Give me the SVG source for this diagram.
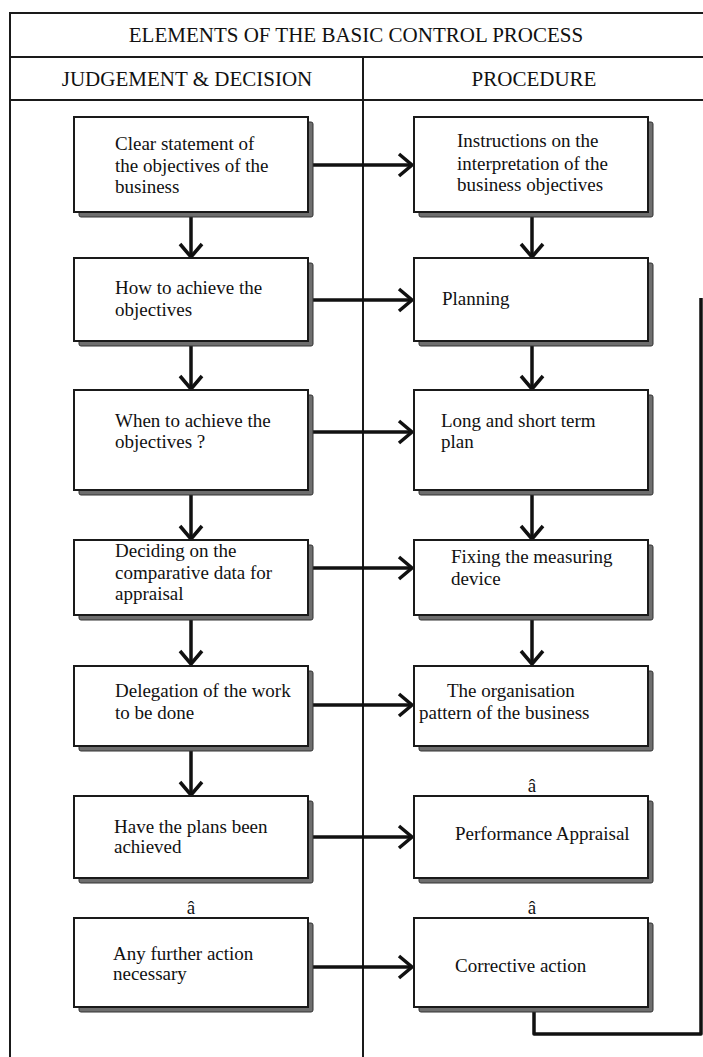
<svg xmlns="http://www.w3.org/2000/svg" width="703" height="1057" viewBox="0 0 703 1057">
<style>
.frame{fill:none;stroke:#1a1a1a;stroke-width:2}
.hd{font-family:"Liberation Serif",serif;font-size:21px;fill:#111;text-anchor:middle}
.t{font-family:"Liberation Serif",serif;font-size:19px;fill:#111}
.c{text-anchor:middle}
.box{fill:#fff;stroke:#1a1a1a;stroke-width:2}
.sh{fill:#6e6e6e;stroke:#333;stroke-width:1}
.ln{fill:none;stroke:#111;stroke-width:3.5}
</style>
<defs>
<marker id="arr" markerUnits="userSpaceOnUse" markerWidth="20" markerHeight="26" viewBox="0 0 20 26" refX="16" refY="13" orient="auto">
<path d="M3,2 L16,13 L3,24" fill="none" stroke="#111" stroke-width="3.5"/>
</marker>
<g id="shape">
<rect class="sh" x="5" y="5" width="234" height="10" rx="2"/>
</g>
</defs>
<rect width="703" height="1057" fill="#fff"/>
<g id="frame">
<path class="frame" d="M10,1060 V13 H705 M10,57 H705 M10,100 H705 M363,57 V1060"/>
<text class="hd" x="356" y="42">ELEMENTS OF THE BASIC CONTROL PROCESS</text>
<text class="hd" x="187" y="86">JUDGEMENT &amp; DECISION</text>
<text class="hd" x="534" y="86">PROCEDURE</text>
</g>
<g id="connectors">
<path class="ln" d="M313,165 H412" marker-end="url(#arr)"/>
<path class="ln" d="M313,300 H412" marker-end="url(#arr)"/>
<path class="ln" d="M313,432 H412" marker-end="url(#arr)"/>
<path class="ln" d="M313,568 H412" marker-end="url(#arr)"/>
<path class="ln" d="M313,705 H412" marker-end="url(#arr)"/>
<path class="ln" d="M313,837 H412" marker-end="url(#arr)"/>
<path class="ln" d="M313,967 H412" marker-end="url(#arr)"/>
<path class="ln" d="M191,213 V257" marker-end="url(#arr)"/>
<path class="ln" d="M191,346 V389" marker-end="url(#arr)"/>
<path class="ln" d="M191,494 V539" marker-end="url(#arr)"/>
<path class="ln" d="M191,616 V664" marker-end="url(#arr)"/>
<path class="ln" d="M191,751 V795" marker-end="url(#arr)"/>
<path class="ln" d="M532,213 V257" marker-end="url(#arr)"/>
<path class="ln" d="M532,346 V389" marker-end="url(#arr)"/>
<path class="ln" d="M532,494 V539" marker-end="url(#arr)"/>
<path class="ln" d="M532,616 V664" marker-end="url(#arr)"/>
<path class="ln" d="M534,1009 V1034 H701 V298" stroke-linejoin="round"/>
</g>
<g id="n1">
<rect class="sh" x="79" y="122" width="234" height="95" rx="2"/>
<rect class="box" x="74" y="117" width="234" height="95"/>
<text class="t" x="115" y="150">Clear statement of</text>
<text class="t" x="115" y="172">the objectives of the</text>
<text class="t" x="115" y="193">business</text>
</g>
<g id="n2">
<rect class="sh" x="79" y="263" width="234" height="83" rx="2"/>
<rect class="box" x="74" y="258" width="234" height="83"/>
<text class="t" x="115" y="294">How to achieve the</text>
<text class="t" x="115" y="316">objectives</text>
</g>
<g id="n3">
<rect class="sh" x="79" y="395" width="234" height="100" rx="2"/>
<rect class="box" x="74" y="390" width="234" height="100"/>
<text class="t" x="115" y="427">When to achieve the</text>
<text class="t" x="115" y="448">objectives ?</text>
</g>
<g id="n4">
<rect class="sh" x="79" y="545" width="234" height="75" rx="2"/>
<rect class="box" x="74" y="540" width="234" height="75"/>
<text class="t" x="115" y="557">Deciding on the</text>
<text class="t" x="115" y="579">comparative data for</text>
<text class="t" x="115" y="600">appraisal</text>
</g>
<g id="n5">
<rect class="sh" x="79" y="671" width="234" height="80" rx="2"/>
<rect class="box" x="74" y="666" width="234" height="80"/>
<text class="t" x="115" y="697">Delegation of the work</text>
<text class="t" x="115" y="719">to be done</text>
</g>
<g id="n6">
<rect class="sh" x="79" y="801" width="234" height="82" rx="2"/>
<rect class="box" x="74" y="796" width="234" height="82"/>
<text class="t" x="114" y="833">Have the plans been</text>
<text class="t" x="114" y="853">achieved</text>
</g>
<g id="n7">
<text class="t c" x="191" y="914">â</text>
<rect class="sh" x="79" y="923" width="234" height="89" rx="2"/>
<rect class="box" x="74" y="918" width="234" height="89"/>
<text class="t" x="113" y="960">Any further action</text>
<text class="t" x="113" y="980">necessary</text>
</g>
<g id="m1">
<rect class="sh" x="419" y="122" width="234" height="95" rx="2"/>
<rect class="box" x="414" y="117" width="234" height="95"/>
<text class="t" x="457" y="147">Instructions on the</text>
<text class="t" x="457" y="170">interpretation of the</text>
<text class="t" x="457" y="191">business objectives</text>
</g>
<g id="m2">
<rect class="sh" x="419" y="263" width="234" height="83" rx="2"/>
<rect class="box" x="414" y="258" width="234" height="83"/>
<text class="t" x="442" y="305">Planning</text>
</g>
<g id="m3">
<rect class="sh" x="419" y="395" width="234" height="100" rx="2"/>
<rect class="box" x="414" y="390" width="234" height="100"/>
<text class="t" x="441" y="427">Long and short term</text>
<text class="t" x="441" y="448">plan</text>
</g>
<g id="m4">
<rect class="sh" x="419" y="545" width="234" height="75" rx="2"/>
<rect class="box" x="414" y="540" width="234" height="75"/>
<text class="t" x="451" y="563">Fixing the measuring</text>
<text class="t" x="451" y="585">device</text>
</g>
<g id="m5">
<rect class="sh" x="419" y="671" width="234" height="80" rx="2"/>
<rect class="box" x="414" y="666" width="234" height="80"/>
<text class="t" x="447" y="697">The organisation</text>
<text class="t" x="419" y="719">pattern of the business</text>
</g>
<g id="m6">
<text class="t c" x="532" y="792">â</text>
<rect class="sh" x="419" y="801" width="234" height="82" rx="2"/>
<rect class="box" x="414" y="796" width="234" height="82"/>
<text class="t" x="455" y="840">Performance Appraisal</text>
</g>
<g id="m7">
<text class="t c" x="532" y="914">â</text>
<rect class="sh" x="419" y="923" width="234" height="89" rx="2"/>
<rect class="box" x="414" y="918" width="234" height="89"/>
<text class="t" x="455" y="972">Corrective action</text>
</g>
</svg>
